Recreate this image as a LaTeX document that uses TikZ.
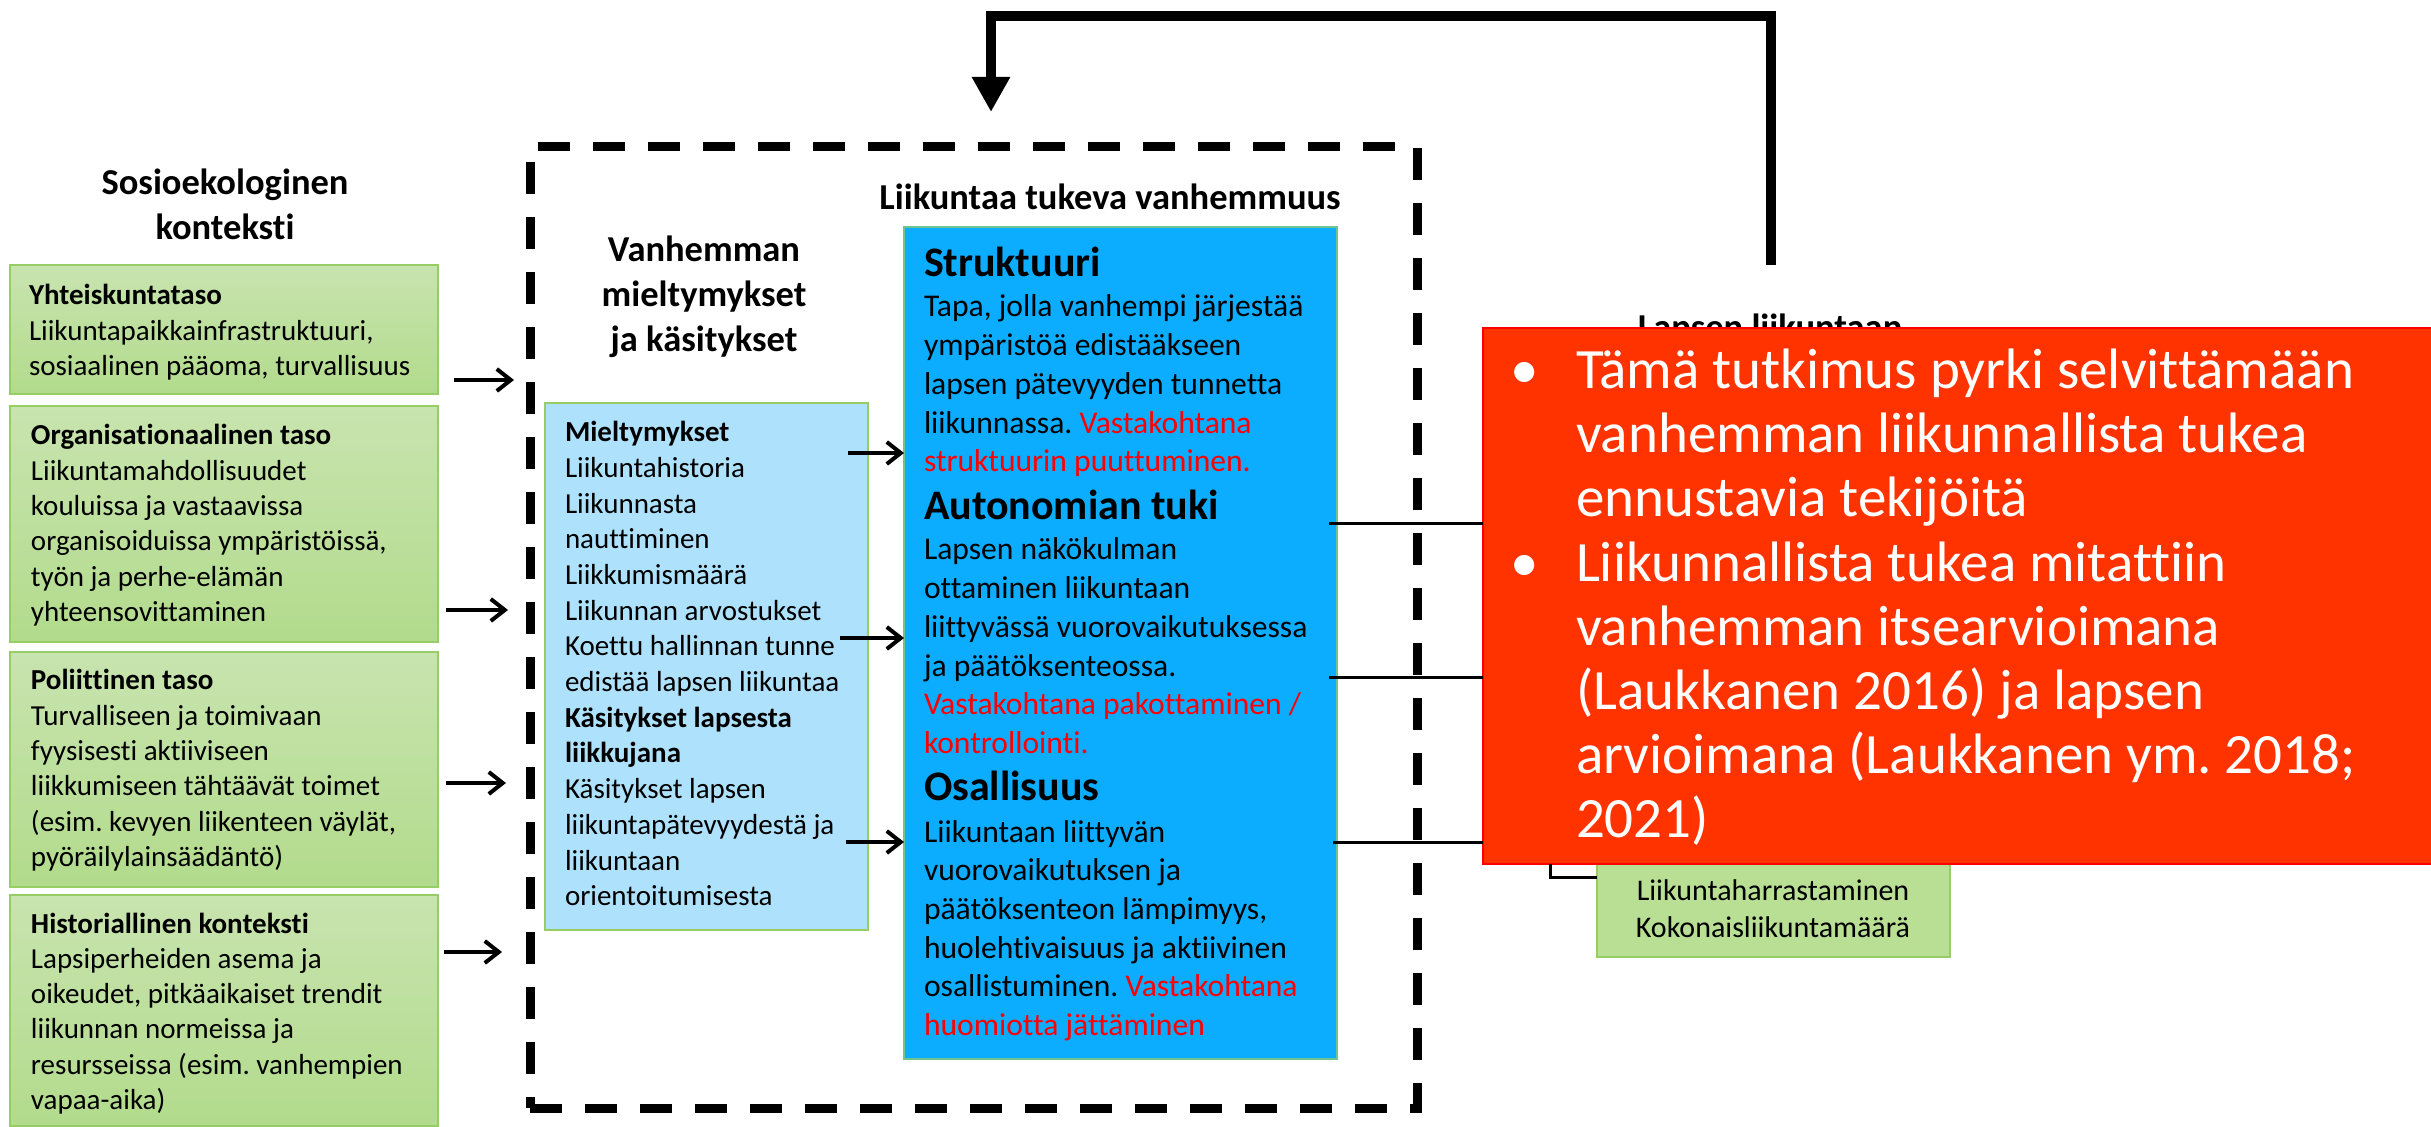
\documentclass[tikz,border=0pt]{standalone}
\usepackage{fontspec}
\setmainfont{Carlito}[Ligatures={TeX,NoCommon}]
\usetikzlibrary{arrows.meta}
\frenchspacing
\definecolor{gtop}{RGB}{200,228,175}
\definecolor{gbot}{RGB}{178,219,140}
\definecolor{gborder}{RGB}{150,205,100}
\definecolor{lblue}{RGB}{174,226,252}
\definecolor{mblue}{RGB}{12,172,255}
\definecolor{rbox}{RGB}{255,51,0}
\definecolor{rborder}{RGB}{255,0,0}
\definecolor{txtred}{RGB}{255,0,0}
\definecolor{sgreen}{RGB}{184,223,148}
\newcommand\txtblock[3]{\parbox[t]{400pt}{\fontsize{#1}{#2}\selectfont\frenchspacing\raggedright #3}}
\newcommand\ctrblock[3]{\parbox[t]{300pt}{\fontsize{#1}{#2}\selectfont\centering #3}}
\newcommand\rd[1]{\textcolor{txtred}{#1}}
\begin{document}
\begin{tikzpicture}[x=0.5pt,y=-0.5pt,
  box/.style={rectangle, anchor=north west, inner sep=0pt, outer sep=0pt},
  gbox/.style={box, draw=gborder, line width=1pt, top color=gtop, bottom color=gbot, minimum width=214pt},
  lbbox/.style={box, draw=gborder, line width=1pt, fill=lblue},
  blbox/.style={box, draw=gborder!70!mblue, line width=1pt, fill=mblue},
  redbox/.style={box, draw=rborder, line width=1pt, fill=rbox},
  sgbox/.style={box, draw=gborder, line width=1pt, fill=sgreen},
  frame/.style={box, draw=black, line width=4.5pt, dash pattern=on 16pt off 11.5pt},
  txt/.style={anchor=base west, inner sep=0pt, outer sep=0pt},
  ctxt/.style={anchor=base, inner sep=0pt, outer sep=0pt},
  wtxt/.style={txt, text=white},
  arr/.style={line width=2pt, -{Straight Barb[length=7pt,width=11pt,line width=2pt]}},
  conn/.style={line width=1.5pt},
  fb/.style={line width=5pt, -{Triangle[length=17.5pt,width=18pt]}}
]
\useasboundingbox (0,0) rectangle (2431,1127);
\fill[white] (0,0) rectangle (2431,1127);

% left column
\node[ctxt] (hsos) at (225,195) {\ctrblock{18.25pt}{22.5pt}{\textbf{Sosioekologinen}\\\textbf{konteksti}}};
\node[gbox, minimum height=64.5pt] (g1) at (10,265) {};
\node[gbox, minimum height=118pt] (g2) at (10,406) {};
\node[gbox, minimum height=117.5pt] (g3) at (10,652) {};
\node[gbox, minimum height=115.5pt] (g4) at (10,895) {};
\node[txt] (t1) at (29,305) {\txtblock{14.5pt}{17.65pt}{\textbf{Yhteiskuntataso}\\Liikuntapaikkainfrastruktuuri,\\sosiaalinen pääoma, turvallisuus}};
\node[txt] (t2) at (31,445) {\txtblock{14.5pt}{17.65pt}{\textbf{Organisationaalinen taso}\\Liikuntamahdollisuudet\\kouluissa ja vastaavissa\\organisoiduissa ympäristöissä,\\työn ja perhe-elämän\\yhteensovittaminen}};
\node[txt] (t3) at (31,690) {\txtblock{14.5pt}{17.65pt}{\textbf{Poliittinen taso}\\Turvalliseen ja toimivaan\\fyysisesti aktiiviseen\\liikkumiseen tähtäävät toimet\\(esim. kevyen liikenteen väylät,\\pyöräilylainsäädäntö)}};
\node[txt] (t4) at (31,933) {\txtblock{14.5pt}{17.65pt}{\textbf{Historiallinen konteksti}\\Lapsiperheiden asema ja\\oikeudet, pitkäaikaiset trendit\\liikunnan normeissa ja\\resursseissa (esim. vanhempien\\vapaa-aika)}};

% dashed frame
\node[frame, minimum width=443.5pt, minimum height=480.5pt] (fr) at (530,147) {};

% middle column
\node[ctxt] (hvan) at (704,262) {\ctrblock{18.25pt}{22.5pt}{\textbf{Vanhemman}\\\textbf{mieltymykset}\\\textbf{ja käsitykset}}};
\node[lbbox, minimum width=161.5pt, minimum height=263.5pt] (lb) at (545,403) {};
\node[txt] (tlb) at (565,441.7) {\txtblock{14.5pt}{17.85pt}{\textbf{Mieltymykset}\\Liikuntahistoria\\Liikunnasta\\nauttiminen\\Liikkumismäärä\\Liikunnan arvostukset\\Koettu hallinnan tunne\\edistää lapsen liikuntaa\\\textbf{Käsitykset lapsesta}\\\textbf{liikkujana}\\Käsitykset lapsen\\liikuntapätevyydestä ja\\liikuntaan\\orientoitumisesta}};

% parenting column
\node[ctxt] (hliik) at (1110,210) {\fontsize{18.25pt}{22.5pt}\selectfont\textbf{Liikuntaa tukeva vanhemmuus}};
\node[blbox, minimum width=216.5pt, minimum height=416pt] (bl) at (904,227) {};
\node[txt] (hs1) at (924,277) {\fontsize{21pt}{25pt}\selectfont\textbf{Struktuuri}};
\node[txt] (ts1) at (924,317) {\txtblock{15.8pt}{19.35pt}{Tapa, jolla vanhempi järjestää\\ympäristöä edistääkseen\\lapsen pätevyyden tunnetta\\liikunnassa. \rd{Vastakohtana}\\\rd{struktuurin puuttuminen.}}};
\node[txt] (hs2) at (924,520) {\fontsize{21pt}{25pt}\selectfont\textbf{Autonomian tuki}};
\node[txt] (ts2) at (924,560) {\txtblock{15.8pt}{19.35pt}{Lapsen näkökulman\\ottaminen liikuntaan\\liittyvässä vuorovaikutuksessa\\ja päätöksenteossa.\\\rd{Vastakohtana pakottaminen /}\\\rd{kontrollointi.}}};
\node[txt] (hs3) at (924,800) {\fontsize{21pt}{25pt}\selectfont\textbf{Osallisuus}};
\node[txt] (ts3) at (924,842) {\txtblock{15.8pt}{19.35pt}{Liikuntaan liittyvän\\vuorovaikutuksen ja\\päätöksenteon lämpimyys,\\huolehtivaisuus ja aktiivinen\\osallistuminen. \rd{Vastakohtana}\\\rd{huomiotta jättäminen}}};

% arrows from context boxes to frame
\coordinate (a1) at (0,380);
\coordinate (a2) at (0,610);
\coordinate (a3) at (0,783);
\coordinate (a4) at (0,952);
\draw[arr] ([xshift=8pt]g1.east |- a1) -- ([xshift=-8pt]fr.west |- a1);
\draw[arr] ([xshift=4pt]g2.east |- a2) -- ([xshift=-11pt]fr.west |- a2);
\draw[arr] ([xshift=4pt]g3.east |- a3) -- ([xshift=-12pt]fr.west |- a3);
\draw[arr] ([xshift=3pt]g4.east |- a4) -- ([xshift=-14pt]fr.west |- a4);

% arrows light blue -> blue
\coordinate (b1) at (0,453);
\coordinate (b2) at (0,638);
\coordinate (b3) at (0,842);
\draw[arr] ([xshift=-10pt]lb.east |- b1) -- (bl.west |- b1);
\draw[arr] ([xshift=-14pt]lb.east |- b2) -- (bl.west |- b2);
\draw[arr] ([xshift=-11pt]lb.east |- b3) -- (bl.west |- b3);

% right column (mostly hidden)
\node[ctxt] (hlap) at (1770,340) {\fontsize{18.25pt}{22.5pt}\selectfont\textbf{Lapsen liikuntaan}};
\node[sgbox, minimum width=176.5pt, minimum height=58.5pt] (sg) at (1597,840) {};
\node[ctxt] (tsg) at (1773,900) {\ctrblock{15pt}{18.5pt}{Liikuntaharrastaminen\\Kokonaisliikuntamäärä}};

% red box
\node[redbox, minimum width=480pt, minimum height=268pt] (rb) at (1483,328) {};
\node[wtxt] (bu1) at (1510,389) {\fontsize{28.5pt}{32pt}\selectfont •};
\node[wtxt] (bu2) at (1510,582) {\fontsize{28.5pt}{32pt}\selectfont •};
\node[wtxt] (tr1) at (1576,389) {\txtblock{28.5pt}{32pt}{Tämä tutkimus pyrki selvittämään\\vanhemman liikunnallista tukea\\ennustavia tekijöitä}};
\node[wtxt] (tr2) at (1576,582) {\txtblock{28.5pt}{32pt}{Liikunnallista tukea mitattiin\\vanhemman itsearvioimana\\(Laukkanen 2016) ja lapsen\\arvioimana (Laukkanen ym. 2018;\\2021)}};

% connectors blue -> red
\coordinate (c1) at (0,524);
\coordinate (c2) at (0,678);
\coordinate (c3) at (0,842);
\draw[conn] ([xshift=-4pt]bl.east |- c1) -- (rb.west |- c1);
\draw[conn] ([xshift=-4pt]bl.east |- c2) -- (rb.west |- c2);
\draw[conn] ([xshift=-2pt]bl.east |- c3) -- (rb.west |- c3);

% bracket
\coordinate (bk) at (1550,877);
\draw[conn] (rb.south -| bk) -- (bk) -- (sg.west |- bk);

% feedback arrow
\coordinate (fbs) at (1771,265);
\coordinate (fbtop) at (0,16);
\coordinate (fbe) at (991,112);
\draw[fb] (fbs) -- (fbs |- fbtop) -- (fbe |- fbtop) -- (fbe);
\end{tikzpicture}
\end{document}
